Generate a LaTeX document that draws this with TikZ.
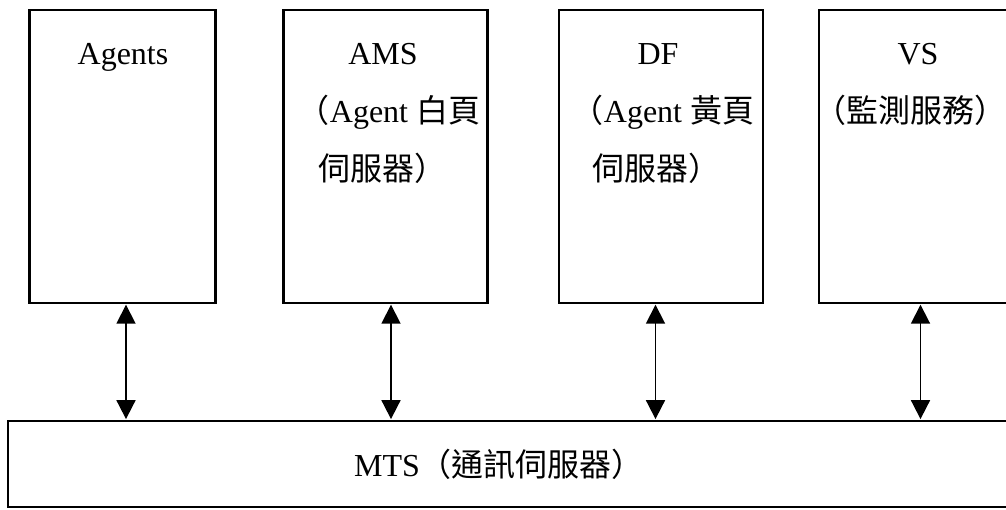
\documentclass[tikz,border=0pt]{standalone}
\usepackage{fontspec}
\setmainfont{Liberation Serif}
\newfontfamily\cjk{Noto Sans CJK TC}
\usetikzlibrary{arrows.meta}
\begin{document}
\begin{tikzpicture}[x=1pt,y=-1pt,
  box/.style={draw=black, line width=2.2pt, inner sep=0pt},
  lbl/.style={anchor=base, inner sep=0pt, font=\fontsize{32}{32}\selectfont},
  arr/.style={line width=1.8pt, {Triangle[length=19pt,width=19pt]}-{Triangle[length=19pt,width=19pt]}, shorten <=0.8pt, shorten >=0.8pt}]
\useasboundingbox (0,0) rectangle (1006,509);
\begin{scope}
\clip (0,0) rectangle (1006,509);
% top boxes
\node[box, minimum width=186pt, minimum height=293pt] (agents) at (122.5,156.3) {};
\node[box, minimum width=204pt, minimum height=293pt] (ams) at (385.5,156.3) {};
\node[box, minimum width=204pt, minimum height=293pt] (df) at (661,156.3) {};
\node[box, minimum width=204pt, minimum height=293pt] (vs) at (921,156.3) {};
% bottom box
\node[box, minimum width=1040pt, minimum height=86pt] (mts) at (528,464) {};
\end{scope}
% labels
\node[lbl] (tagents) at (123,64) {Agents};
\node[lbl] (tams) at (383,64) {AMS};
\node[lbl] (tams2) at (389,122) {{\cjk （}Agent {\cjk 白頁}};
\node[lbl] (tams3) at (382,180) {{\cjk 伺服器）}};
\node[lbl] (tdf) at (658,64) {DF};
\node[lbl] (tdf2) at (663,122) {{\cjk （}Agent {\cjk 黃頁}};
\node[lbl] (tdf3) at (656,180) {{\cjk 伺服器）}};
\node[lbl] (tvs) at (918,64) {VS};
\node[lbl] (tvs2) at (910,122) {{\cjk （監測服務）}};
\node[lbl] (tmts) at (499,476) {MTS{\cjk （通訊伺服器）}};
% connector x positions
\coordinate (xa) at (126,0);
\coordinate (xb) at (391,0);
\coordinate (xc) at (655.5,0);
\coordinate (xd) at (920.5,0);
\draw[arr] (xa |- agents.south) -- (xa |- mts.north);
\draw[arr] (xb |- ams.south) -- (xb |- mts.north);
\draw[arr] (xc |- df.south) -- (xc |- mts.north);
\draw[arr] (xd |- vs.south) -- (xd |- mts.north);
\end{tikzpicture}
\end{document}
